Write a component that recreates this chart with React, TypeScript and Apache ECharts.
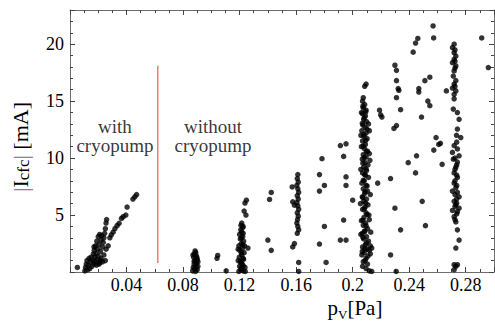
import React, { useEffect, useRef } from "react";
import * as echarts from "echarts";

// ---- data (p_V [Pa], |I_cfc| [mA]) ----
const withCryoPts: number[][] = [
  [0.0052, 0.4],
  [0.0105, 0.1], [0.011, 0.4], [0.0115, 0.7], [0.012, 1.0], [0.0125, 0.2], [0.013, 0.6],
  [0.0135, 1.2], [0.014, 0.3], [0.0145, 0.9], [0.015, 1.3], [0.0155, 0.5], [0.016, 1.0],
  [0.0165, 1.6], [0.017, 0.7], [0.0172, 1.9], [0.0175, 1.3], [0.018, 2.3], [0.018, 0.9],
  [0.0185, 1.6], [0.019, 2.7], [0.019, 1.1], [0.0195, 2.0], [0.02, 3.1], [0.02, 1.4],
  [0.0205, 2.4], [0.021, 0.8], [0.021, 3.3], [0.0215, 1.8], [0.022, 2.8], [0.022, 1.2],
  [0.0225, 3.2], [0.023, 2.2], [0.023, 0.9], [0.0235, 2.6], [0.024, 3.0], [0.024, 1.5],
  [0.0245, 3.4], [0.025, 1.0], [0.0255, 2.0], [0.0259, 4.6], [0.0255, 4.3], [0.025, 3.8],
  [0.0187, 0.6], [0.0205, 0.7], [0.0215, 1.0], [0.017, 2.2],
  [0.027, 2.3], [0.0282, 3.0], [0.0292, 3.25], [0.0305, 3.5], [0.0318, 3.8], [0.0333, 4.07],
  [0.0347, 4.27], [0.0364, 4.7], [0.0376, 4.85], [0.0395, 5.0], [0.0404, 5.7],
  [0.0445, 6.4], [0.0459, 6.6], [0.0471, 6.8],
];

const col009Pts: number[][] = [
  [0.0868, 0.1], [0.0872, 0.4], [0.0878, 0.7], [0.0885, 1.0], [0.0875, 1.3], [0.088, 1.6],
  [0.0885, 1.85], [0.089, 1.7], [0.0895, 1.4], [0.09, 1.1], [0.0895, 0.8], [0.0905, 0.5],
  [0.09, 0.2], [0.0888, 0.05], [0.0878, 0.95], [0.0892, 0.6], [0.0882, 0.3], [0.0898, 1.25],
  [0.0905, 0.9], [0.087, 1.5],
  [0.1045, 1.45], [0.104, 1.2], [0.1105, 0.1],
];

const col012Pts: number[][] = [
  [0.1195, 0.05], [0.121, 0.2], [0.1225, 0.1], [0.124, 0.05], [0.12, 0.5], [0.1218, 0.7],
  [0.1205, 0.9], [0.1228, 1.1], [0.1198, 1.3], [0.1215, 1.5], [0.1232, 1.7], [0.1202, 1.9],
  [0.122, 2.1], [0.1195, 2.3], [0.1212, 2.5], [0.1228, 2.7], [0.1205, 2.9], [0.1222, 3.1],
  [0.12, 3.3], [0.1215, 3.5], [0.1208, 3.7], [0.1222, 3.9], [0.121, 4.1], [0.1215, 4.3],
  [0.1238, 0.4], [0.119, 1.0], [0.1235, 2.3], [0.119, 2.0],
  [0.1212, 0.35], [0.1225, 0.55], [0.1212, 0.8], [0.1225, 1.2], [0.1212, 1.7],
  [0.1222, 2.4], [0.1212, 3.0], [0.1225, 3.4], [0.1225, 4.0],
  [0.1248, 6.3], [0.1238, 6.05], [0.1232, 5.35], [0.1245, 5.0], [0.1259, 2.1],
];

const col016Pts: number[][] = [
  [0.1612, 8.55], [0.1608, 8.2], [0.1615, 7.9], [0.1605, 7.6], [0.1612, 7.3], [0.1618, 7.0],
  [0.1608, 6.7], [0.1615, 6.4], [0.1605, 6.1], [0.1612, 5.8], [0.1618, 5.5], [0.1608, 5.2],
  [0.1615, 4.9], [0.161, 4.6], [0.1605, 4.3], [0.1612, 4.0], [0.1618, 3.7], [0.1608, 3.4],
  [0.1572, 7.47], [0.1576, 6.16], [0.1588, 5.87], [0.1588, 2.5], [0.1576, 2.2],
  [0.1618, 0.84], [0.1618, 0.05],
];

const scatterMidPts: number[][] = [
  [0.1424, 6.98], [0.1412, 6.37], [0.14, 2.8], [0.1424, 1.9],
  [0.1783, 9.95], [0.1765, 8.55], [0.18, 7.6], [0.1765, 7.1], [0.18, 4.0], [0.1765, 2.45],
  [0.1812, 0.84], [0.1913, 11.1], [0.1953, 11.25], [0.1936, 10.15], [0.1953, 8.35],
  [0.1953, 7.6], [0.2, 6.3], [0.1936, 4.56], [0.1913, 2.8], [0.1953, 2.8],
];

const col020Pts: number[][] = [
  [0.2095, 16.5], [0.2085, 16.3], [0.2075, 15.3], [0.207, 15.0],
  [0.2085, 14.7], [0.2075, 14.4], [0.2095, 14.2], [0.207, 13.9], [0.209, 13.7], [0.2078, 13.4],
  [0.2098, 13.2], [0.2072, 12.9], [0.2088, 12.7], [0.2065, 12.4], [0.2095, 12.2], [0.208, 11.9],
  [0.2102, 11.7], [0.207, 11.5], [0.209, 11.2], [0.2062, 11.0], [0.2085, 10.8], [0.2105, 10.6],
  [0.2075, 10.3], [0.2095, 10.1], [0.2068, 9.9], [0.2088, 9.6], [0.2108, 9.4], [0.2078, 9.2],
  [0.2098, 8.9], [0.207, 8.7], [0.209, 8.5], [0.2112, 8.3], [0.2082, 8.0], [0.2065, 7.8],
  [0.2095, 7.6], [0.2075, 7.3], [0.2105, 7.1], [0.2085, 6.9], [0.2068, 6.6], [0.2098, 6.4],
  [0.2078, 6.2], [0.2108, 5.9], [0.2088, 5.7], [0.207, 5.5], [0.2095, 5.2], [0.2115, 5.0],
  [0.208, 4.8], [0.2062, 4.5], [0.2092, 4.3], [0.2075, 4.1], [0.2105, 3.8], [0.2085, 3.6],
  [0.2068, 3.4], [0.2098, 3.1], [0.2078, 2.9], [0.2112, 2.7], [0.209, 2.4], [0.207, 2.2],
  [0.2102, 2.0], [0.2082, 1.7], [0.2125, 1.6], [0.2065, 1.5], [0.2095, 1.2], [0.2118, 1.9],
  [0.2075, 0.9], [0.2135, 2.1], [0.2125, 2.3], [0.2058, 3.3], [0.2118, 4.6], [0.2125, 6.8],
  [0.2058, 9.0], [0.2118, 10.4], [0.2058, 12.0], [0.2112, 13.0], [0.2118, 12.4], [0.2062, 14.0],
  [0.2122, 9.8], [0.2055, 6.0], [0.2128, 3.5],
  [0.2072, 14.55], [0.2092, 14.05], [0.2082, 13.55], [0.2068, 13.05], [0.2102, 12.55],
  [0.2078, 12.05], [0.2092, 11.55], [0.2075, 11.05], [0.2098, 10.55], [0.2082, 10.05],
  [0.2072, 9.55], [0.2095, 9.05], [0.2085, 8.55], [0.2075, 8.05], [0.2102, 7.55],
  [0.2088, 7.05], [0.2072, 6.55], [0.2092, 6.05], [0.2082, 5.55], [0.2102, 5.05],
  [0.2072, 4.55], [0.2095, 4.05], [0.2085, 3.55], [0.2072, 3.05], [0.2098, 2.55],
  [0.2085, 2.05], [0.2068, 1.8], [0.2108, 1.4], [0.2088, 1.0], [0.2105, 0.7],
  [0.219, 14.2], [0.2207, 13.6], [0.2198, 13.8], [0.2177, 7.8],
  [0.207, 0.5], [0.2095, 0.3], [0.2118, 0.1], [0.2135, 0.05],
];

const scatterHighPts: number[][] = [
  [0.2268, 1.5], [0.2308, 0.05], [0.2339, 3.7], [0.2299, 5.6], [0.2268, 8.2],
  [0.2292, 12.6], [0.231, 12.85], [0.2339, 14.25], [0.231, 15.3], [0.2322, 16.1],
  [0.2327, 15.95], [0.231, 16.8], [0.231, 17.7], [0.2299, 18.15],
  [0.2428, 19.3], [0.2445, 20.1], [0.2461, 20.5], [0.2569, 21.6], [0.2573, 20.55],
  [0.2468, 16.1], [0.2468, 15.8], [0.2511, 16.8], [0.2546, 17.1], [0.2532, 15.0],
  [0.2546, 14.6], [0.2487, 13.6], [0.2452, 10.2], [0.2393, 9.6], [0.2445, 8.7],
  [0.2492, 6.2], [0.2515, 4.07], [0.259, 11.8], [0.2574, 10.7], [0.2609, 11.2],
  [0.2621, 11.3], [0.2633, 9.45], [0.2663, 15.9],
  [0.2913, 20.55], [0.296, 17.95],
];

const col027Pts: number[][] = [
  [0.2718, 20.0], [0.2706, 19.7], [0.2718, 19.25], [0.273, 18.96], [0.2718, 18.67],
  [0.2706, 18.38], [0.273, 18.09], [0.2718, 17.65], [0.273, 16.8], [0.2718, 16.5],
  [0.2706, 16.15], [0.273, 15.9], [0.2718, 15.6], [0.2718, 15.2], [0.2712, 14.3],
  [0.2741, 14.0], [0.2753, 13.4], [0.2741, 12.55], [0.2765, 11.8], [0.2718, 11.1],
  [0.2741, 10.8], [0.2753, 10.2], [0.2741, 9.65], [0.273, 9.2], [0.2718, 8.7],
  [0.2741, 8.3], [0.2718, 7.8], [0.273, 7.4], [0.2741, 6.99], [0.2753, 6.6],
  [0.2718, 6.2], [0.273, 5.9], [0.2753, 5.6], [0.2741, 5.3], [0.2718, 4.85],
  [0.273, 4.4], [0.2741, 3.7], [0.2753, 2.8], [0.273, 2.1], [0.2718, 0.64],
  [0.273, 0.49], [0.2741, 0.64], [0.2718, 0.2],
  [0.2706, 10.5], [0.2712, 9.9], [0.2706, 7.1], [0.2735, 6.4], [0.2706, 5.4],
  [0.2735, 12.0], [0.2712, 17.2],
  [0.2724, 4.6], [0.2736, 5.1], [0.2724, 5.75], [0.2736, 6.05], [0.2724, 6.8],
  [0.2736, 7.6], [0.2724, 8.0], [0.2736, 8.5], [0.2724, 9.0], [0.2736, 9.4],
  [0.2724, 10.0], [0.2736, 11.4], [0.2724, 17.9], [0.2724, 18.5], [0.2724, 19.5],
  [0.2724, 16.3],
];

// divider line (with / without cryopump)
const dividerPts: number[][] = [[0.0621, 0.8], [0.0621, 18.1]];

// annotations
const annotX = [0.0318, 0.1012];
const annotY = [11.94, 11.94];
const annotText = ["with\ncryopump", "without\ncryopump"];

// axes
const xMin = 0, xMax = 0.3, xStep = 0.04;
const yMin = 0, yMax = 23, yStep = 5;

const FONT = "'Liberation Serif', 'Times New Roman', serif";

export default function App() {
  const ref = useRef<HTMLDivElement>(null);
  useEffect(() => {
    if (!ref.current) return;
    const chart = echarts.init(ref.current, null, { renderer: "svg" });
    const frameColor = "#6e6e6e";
    const tickCommon = {
      axisLine: { show: true, onZero: false, lineStyle: { color: frameColor, width: 1 } },
      axisTick: { show: true, inside: true, length: 5, lineStyle: { color: "#444" } },
      minorTick: { show: true, length: 3, lineStyle: { color: "#444" } },
      splitLine: { show: false },
      minorSplitLine: { show: false },
    };
    const xFmt = (v: number) => (v > 0.001 && v < 0.295 ? String(+v.toFixed(2)) : "");
    const yFmt = (v: number) => (v > 0.5 && v < 22 ? String(v) : "");
    const dotSeries = (data: number[][]) => ({
      type: "scatter",
      data,
      symbolSize: 5.5,
      itemStyle: { color: "#000" },
      silent: true,
      xAxisIndex: 0,
      yAxisIndex: 0,
    });
    chart.setOption({
      animation: false,
      grid: { left: 70, right: 1, top: 10, bottom: 50, outerBoundsMode: "none", containLabel: false },
      xAxis: [
        {
          type: "value", min: xMin, max: xMax, interval: xStep, position: "bottom",
          ...tickCommon,
          minorTick: { ...tickCommon.minorTick, splitNumber: 4 },
          axisLabel: { formatter: xFmt, color: "#000", fontFamily: FONT, fontSize: 18, margin: 4 },
          name: "{a|p}{s|V}{a|[Pa]}",
          nameLocation: "middle",
          nameGap: 25,
          nameMoveOverlap: false,
          nameTextStyle: {
            padding: [0, 0, 0, 146],
            rich: {
              a: { fontFamily: FONT, fontSize: 21, color: "#000", verticalAlign: "top", lineHeight: 22 },
              s: { fontFamily: FONT, fontSize: 13, color: "#000", verticalAlign: "bottom", lineHeight: 14, padding: [2, 0, -2, 0] },
            },
          },
        },
        {
          type: "value", min: xMin, max: xMax, interval: xStep, position: "top",
          ...tickCommon,
          minorTick: { ...tickCommon.minorTick, splitNumber: 4 },
          axisLabel: { show: false },
        },
      ],
      yAxis: [
        {
          type: "value", min: yMin, max: yMax, interval: yStep, position: "left",
          ...tickCommon,
          minorTick: { ...tickCommon.minorTick, splitNumber: 5 },
          axisLabel: { formatter: yFmt, color: "#000", fontFamily: FONT, fontSize: 18, margin: 6 },
          name: "{b||}{a|I}{s|cfc}{b||}{a| [mA]}",
          nameLocation: "middle",
          nameRotate: 90,
          nameGap: 38,
          nameMoveOverlap: false,
          nameTextStyle: {
            padding: [0, 12, 0, 0],
            rich: {
              a: { fontFamily: FONT, fontSize: 22, color: "#000" },
              b: { fontFamily: FONT, fontSize: 22, color: "#a0507a" },
              s: { fontFamily: FONT, fontSize: 17, color: "#000", verticalAlign: "bottom", padding: [6, 0, 0, 0] },
            },
          },
        },
        {
          type: "value", min: yMin, max: yMax, interval: yStep, position: "right",
          ...tickCommon,
          minorTick: { ...tickCommon.minorTick, splitNumber: 5 },
          axisLabel: { show: false },
        },
      ],
      series: [
        {
          type: "line",
          data: dividerPts,
          symbol: "none",
          silent: true,
          lineStyle: { color: "#ee7a7a", width: 1.5 },
        },
        dotSeries(withCryoPts),
        dotSeries(col009Pts),
        dotSeries(col012Pts),
        dotSeries(col016Pts),
        dotSeries(scatterMidPts),
        dotSeries(col020Pts),
        dotSeries(scatterHighPts),
        dotSeries(col027Pts),
        {
          type: "scatter",
          silent: true,
          symbolSize: 0,
          data: annotX.map((x, i) => ({ value: [x, annotY[i]], name: annotText[i] })),
          label: {
            show: true,
            position: "inside",
            formatter: (p: any) => p.name,
            fontFamily: FONT,
            fontSize: 19,
            lineHeight: 19,
            color: "#000",
            align: "center",
          },
        },
      ],
    });
    return () => chart.dispose();
  }, []);
  return (
    <div
      ref={ref}
      style={{ position: "absolute", left: 0, top: 0, width: 495, height: 322, background: "#fff" }}
    />
  );
}
